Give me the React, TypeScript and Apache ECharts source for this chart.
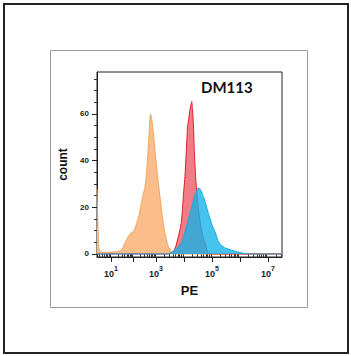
import React, { useEffect, useRef } from "react";
import * as echarts from "echarts";

// Display position (0–100 across the axis) of each decade 10^1 … 10^7 (logicle-like display scale)
const decadeExp = [1, 2, 3, 4, 5, 6, 7];
const decadePos = [7.6, 19.75, 31.9, 47.05, 62.2, 77.3, 92.4];
const labelExps = [1, 3, 5, 7];

const yMajor = [0, 20, 40, 60];
const yMinor = [5, 10, 15, 25, 30, 35, 45, 50, 55, 65, 70, 75];

// Histograms: [display position, count]
const orangeHist = [
  [0, 28], [0.5, 12], [1.1, 2], [2, 0.8], [5, 0.7], [8, 0.8], [11, 1], [12.8, 1.6], [14.1, 2.8],
  [15.3, 5], [16.8, 7.3], [18.4, 9], [20, 10], [21.2, 12.5], [22.4, 15.5], [23.6, 20], [24.8, 25],
  [25.9, 28.5], [26.6, 33], [27.3, 40], [27.9, 48], [28.4, 55], [28.9, 60], [29.3, 59], [29.7, 57],
  [30.3, 53], [30.8, 49], [31.5, 43], [32.3, 37], [33.2, 30], [34.1, 24], [35, 18], [35.7, 14],
  [36.8, 8.5], [38.4, 3.5], [40.4, 0.8], [41.6, 0], [100, 0],
];
const redHist = [
  [0, 0], [38, 0], [41, 0.8], [42.5, 3], [43.8, 7], [45, 11], [45.8, 15], [46.6, 24], [47.6, 34],
  [48.5, 48], [49, 55], [49.6, 58], [50.3, 62], [50.8, 64], [51.2, 65.3], [51.6, 62], [52.1, 56],
  [52.6, 44], [53.4, 32], [54.1, 25], [54.8, 19], [55.7, 14], [56.6, 10], [57.5, 7], [58.4, 4.7],
  [59.3, 2], [60.2, 0.5], [61.5, 0], [100, 0],
];
const blueHist = [
  [0, 0], [38, 0], [39.5, 0.3], [41, 1], [42.2, 1.8], [43.8, 3], [45.8, 5], [47.2, 8.5], [48.5, 12],
  [49.5, 15], [50.3, 17.5], [51.2, 20], [52.1, 23], [53, 25.5], [53.9, 27], [54.8, 28.3], [55.7, 27.8],
  [56.6, 26.5], [57.5, 24.6], [58.4, 22.5], [59.3, 20], [60.2, 17.4], [61, 15.5], [61.6, 14], [62.4, 12],
  [62.9, 11], [63.8, 9.5], [64.7, 7.5], [65.6, 5.3], [66.6, 4.2], [67.6, 3.5], [68.8, 2.8], [70.1, 2.3],
  [71.5, 2], [73, 1.5], [74.3, 1.3], [75.5, 1], [77.2, 0.6], [78.9, 0.3], [80.5, 0], [100, 0],
];

const FONT = "'Liberation Sans', Arial, sans-serif";

function posOfExp(e: number) {
  return decadePos[decadeExp.indexOf(e)];
}

function minorTicks() {
  const p = [decadePos[0] - (decadePos[1] - decadePos[0]), ...decadePos, decadePos[6] + (decadePos[6] - decadePos[5])];
  const out: number[] = [];
  for (let i = 0; i < p.length - 1; i++) {
    for (let k = 2; k <= 9; k++) {
      const v = p[i] + Math.log10(k) * (p[i + 1] - p[i]);
      if (v > 0 && v < 100) out.push(+v.toFixed(3));
    }
  }
  return out;
}

export default function App() {
  const ref = useRef<HTMLDivElement>(null);
  useEffect(() => {
    if (!ref.current) return;
    const chart = echarts.init(ref.current, undefined, { renderer: "svg" });
    const labelPos = labelExps.map(posOfExp);
    const yMin = -1.3;
    const yMax = 78;
    chart.setOption({
      animation: false,
      backgroundColor: "#fff",
      grid: {
        left: 97, top: 72, width: 185, height: 185,
        show: true, borderColor: "#222", borderWidth: 1, backgroundColor: "transparent",
      },
      xAxis: [
        {
          type: "value", min: 0, max: 100, position: "bottom",
          axisLine: { show: true, onZero: false, lineStyle: { color: "#222", width: 1 } },
          axisTick: { show: true, length: 5, customValues: decadePos, lineStyle: { color: "#222" } },
          axisLabel: {
            customValues: labelPos,
            margin: 8,
            formatter: (v: number) => {
              const i = labelPos.findIndex((p) => Math.abs(p - v) < 1e-6);
              return i < 0 ? "" : `{b|10}{s|${labelExps[i]}}`;
            },
            rich: {
              b: { fontSize: 9, fontWeight: "bold", color: "#222", fontFamily: FONT, lineHeight: 13, verticalAlign: "bottom" },
              s: { fontSize: 7, fontWeight: "bold", color: "#222", fontFamily: FONT, verticalAlign: "top" },
            },
          },
          splitLine: { show: false },
          name: "PE", nameLocation: "middle", nameGap: 27,
          nameTextStyle: { fontSize: 13, fontWeight: "bold", color: "#111", fontFamily: FONT },
        },
        {
          type: "value", min: 0, max: 100, position: "bottom",
          axisLine: { show: false },
          axisTick: { show: true, length: 3, customValues: minorTicks(), lineStyle: { color: "#333" } },
          axisLabel: { show: false },
          splitLine: { show: false },
        },
      ],
      yAxis: [
        {
          type: "value", min: yMin, max: yMax, position: "left",
          axisLine: { show: true, onZero: false, lineStyle: { color: "#222", width: 1 } },
          axisTick: { show: true, length: 5, customValues: yMajor, lineStyle: { color: "#222" } },
          axisLabel: {
            customValues: yMajor, margin: 8, fontSize: 8, fontWeight: "bold", color: "#222", fontFamily: FONT,
          },
          splitLine: { show: false },
          name: "count", nameLocation: "middle", nameGap: 15, nameRotate: 90,
          nameTextStyle: { fontSize: 12, fontWeight: "bold", color: "#111", fontFamily: FONT },
        },
        {
          type: "value", min: yMin, max: yMax, position: "left",
          axisLine: { show: false },
          axisTick: { show: true, length: 3, customValues: yMinor, lineStyle: { color: "#333" } },
          axisLabel: { show: false },
          splitLine: { show: false },
        },
      ],
      series: [
        {
          type: "line", data: orangeHist, xAxisIndex: 0, yAxisIndex: 0, symbol: "none", smooth: 0.2,
          lineStyle: { color: "#F2A25C", width: 1 },
          areaStyle: { color: "#FBBE8A", opacity: 1 },
          z: 2,
        },
        {
          type: "line", data: redHist, xAxisIndex: 0, yAxisIndex: 0, symbol: "none", smooth: 0.2,
          lineStyle: { color: "#E11F2D", width: 1 },
          areaStyle: { color: "#F27C85", opacity: 1 },
          z: 3,
        },
        {
          type: "line", data: blueHist, xAxisIndex: 0, yAxisIndex: 0, symbol: "none", smooth: 0.2,
          lineStyle: { color: "#1AA8DE", width: 1 },
          areaStyle: { color: "#12B4EA", opacity: 0.78 },
          z: 4,
        },
      ],
      graphic: [
        {
          type: "rect", shape: { x: 4, y: 4, width: 344, height: 349 },
          style: { fill: "none", stroke: "#222", lineWidth: 2 }, silent: true,
        },
        {
          type: "rect", shape: { x: 50.5, y: 50.5, width: 257, height: 257 },
          style: { fill: "none", stroke: "#9a9a9a", lineWidth: 1 }, silent: true,
        },
        {
          type: "text", left: 201, top: 79,
          style: { text: "DM113", fontSize: 15, fontWeight: "bold", fill: "#111", fontFamily: "Lato, 'Open Sans', sans-serif" },
          z: 10,
        },
      ],
    });
    return () => chart.dispose();
  }, []);
  return (
    <div
      ref={ref}
      style={{ position: "fixed", left: 0, top: 0, width: 351, height: 356, background: "#fff" }}
    />
  );
}
